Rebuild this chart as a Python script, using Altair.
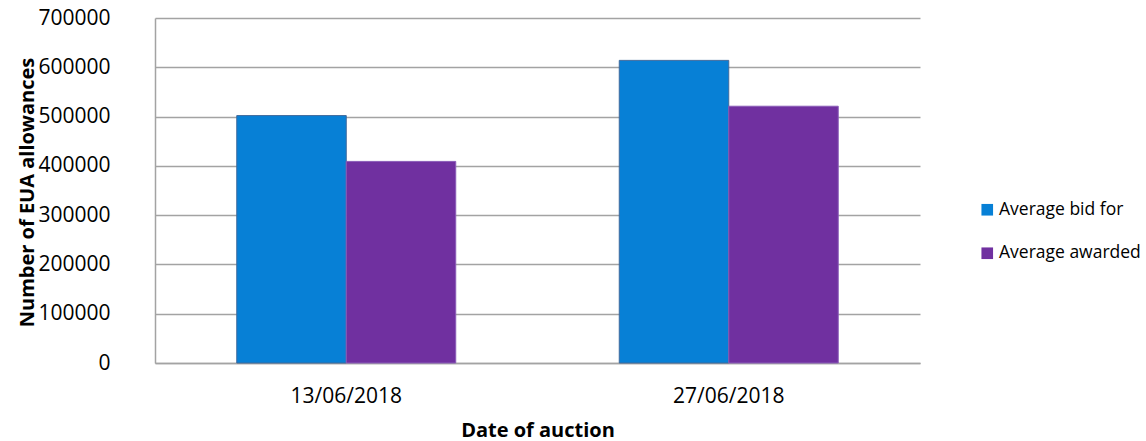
import altair as alt
import pandas as pd

dates = ["13/06/2018", "27/06/2018"]
series = ["Average bid for", "Average awarded"]
bid_for = [502000, 614000]
awarded = [409000, 521000]

rows = []
for i, d in enumerate(dates):
    rows.append({"date": d, "series": series[0], "value": bid_for[i]})
    rows.append({"date": d, "series": series[1], "value": awarded[i]})
df = pd.DataFrame(rows)

FONT = "Open Sans"
GRID = "#a3a3a3"

chart = alt.Chart(df).mark_bar(strokeWidth=1).encode(
    x=alt.X(
        "date:N",
        sort=dates,
        scale=alt.Scale(paddingInner=0.4275, paddingOuter=0.21375),
        axis=alt.Axis(
            title="Date of auction",
            labelAngle=0,
            ticks=False,
            labelPadding=22,
            labelFontSize=21,
            labelFont=FONT,
            labelColor="#000000",
            titleFont=FONT,
            titleFontSize=20,
            titleFontWeight="bold",
            titleColor="#000000",
            titleY=73,
            titleBaseline="alphabetic",
            domainColor=GRID,
            domainWidth=1.5,
            grid=False,
        ),
    ),
    xOffset=alt.XOffset("series:N", sort=series, scale=alt.Scale(paddingInner=0, paddingOuter=0)),
    y=alt.Y(
        "value:Q",
        scale=alt.Scale(domain=[0, 700000], nice=False),
        axis=alt.Axis(
            title="Number of EUA allowances",
            values=[0, 100000, 200000, 300000, 400000, 500000, 600000, 700000],
            format="d",
            ticks=False,
            labelPadding=45,
            labelFontSize=21,
            labelFont=FONT,
            labelColor="#000000",
            titleFont=FONT,
            titleFontSize=20,
            titleFontWeight="bold",
            titleColor="#000000",
            titleAngle=-90,
            titleX=-122,
            titleY=174,
            titleAlign="center",
            titleBaseline="alphabetic",
            gridColor=GRID,
            gridWidth=1.5,
            domainColor=GRID,
            domainWidth=1.5,
        ),
    ),
    color=alt.Color(
        "series:N",
        sort=series,
        scale=alt.Scale(domain=series, range=["#0780d6", "#7030a0"]),
        legend=alt.Legend(
            title=None,
            orient="none",
            legendX=823.5,
            legendY=183,
            symbolType="square",
            symbolSize=135,
            symbolStrokeWidth=0,
            labelFont=FONT,
            labelFontSize=17.5,
            labelColor="#000000",
            labelOffset=3,
            rowPadding=24.5,
            padding=0,
        ),
    ),
    stroke=alt.Stroke(
        "series:N",
        sort=series,
        scale=alt.Scale(domain=series, range=["#3f6a9c", "#8a5cb8"]),
        legend=None,
    ),
).properties(
    width=765,
    height=345,
    autosize=alt.AutoSizeParams(type="none"),
    padding={"left": 155, "top": 18, "right": 226, "bottom": 78},
).configure_view(stroke=None)

chart.save("out.html", embed_options={"renderer": "svg", "actions": False})
